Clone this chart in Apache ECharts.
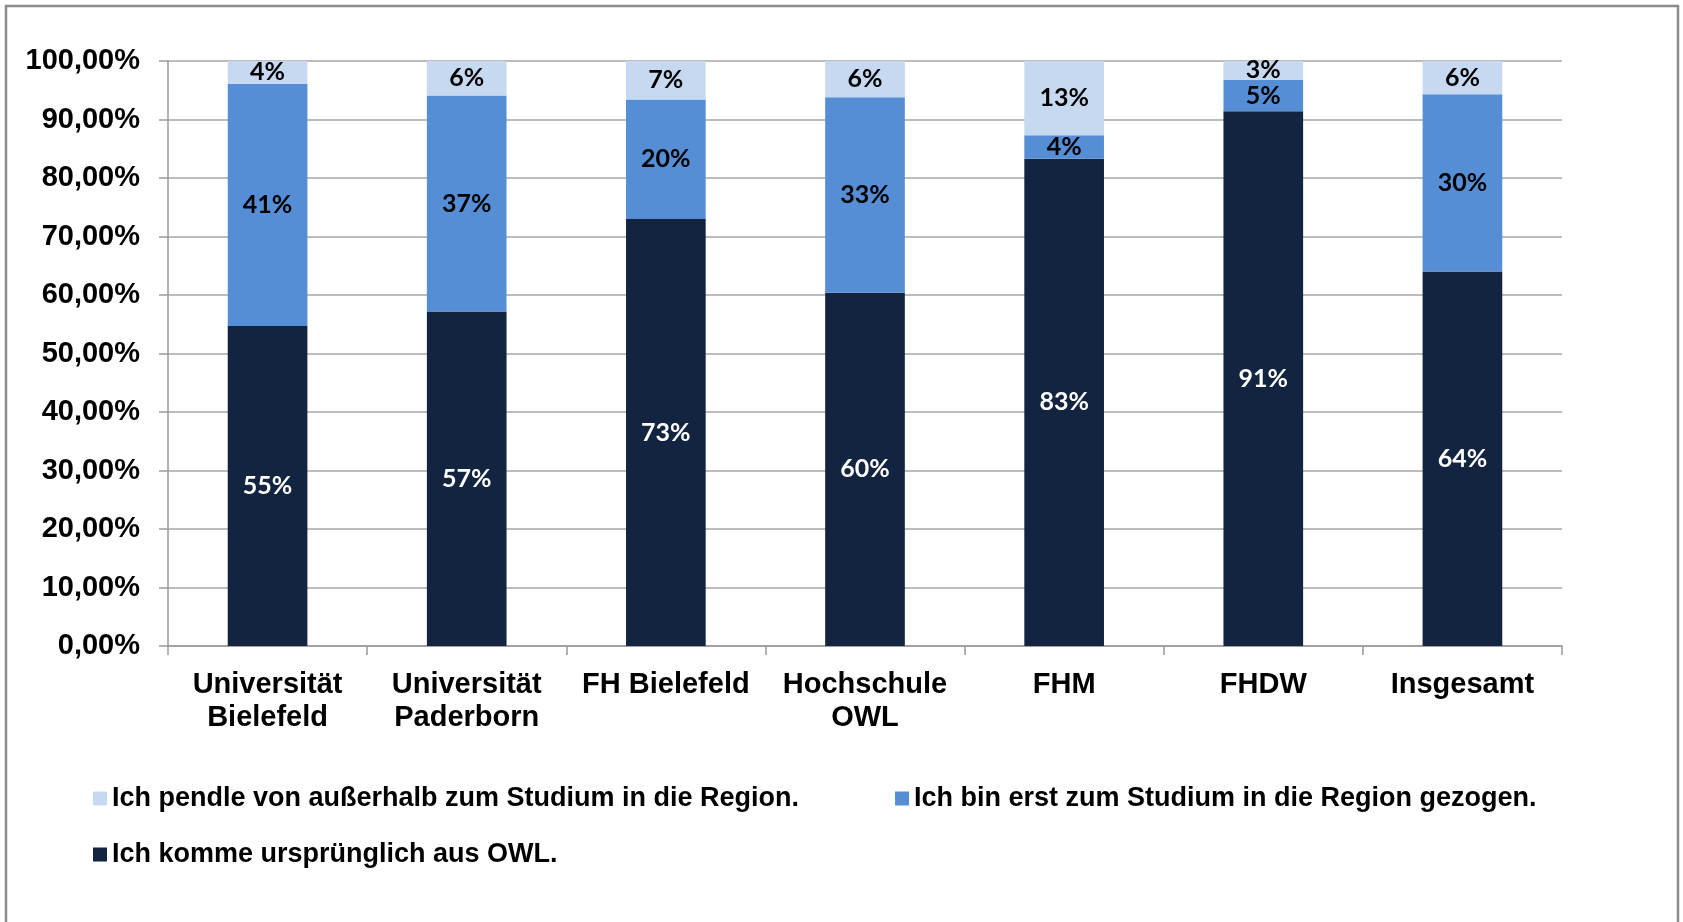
<!DOCTYPE html>
<html>
<head>
<meta charset="utf-8">
<script src="https://cdn.jsdelivr.net/npm/echarts@6/dist/echarts.min.js"></script>
<style>
  html, body { margin: 0; padding: 0; background: #fff; }
  #chart { width: 1683px; height: 922px; }
</style>
</head>
<body>
<div id="chart"></div>
<script>
// Kategorien (Hochschulen)
var categories = ['Universität\nBielefeld', 'Universität\nPaderborn', 'FH Bielefeld', 'Hochschule\nOWL', 'FHM', 'FHDW', 'Insgesamt'];

// Anteile in Prozent, von unten nach oben gestapelt
var ausOWL = [54.7, 57.2, 73.0, 60.4, 83.3, 91.4, 64.0];
var zugezogen = [41.4, 36.9, 20.4, 33.4, 4.0, 5.4, 30.3];
var pendler = [3.9, 5.9, 6.6, 6.2, 12.7, 3.2, 5.7];

var yTicks = ['0,00%', '10,00%', '20,00%', '30,00%', '40,00%', '50,00%', '60,00%', '70,00%', '80,00%', '90,00%', '100,00%'];

var names = [
  'Ich komme ursprünglich aus OWL.',
  'Ich bin erst zum Studium in die Region gezogen.',
  'Ich pendle von außerhalb zum Studium in die Region.'
];

var chart = echarts.init(document.getElementById('chart'));

var axisFont = 'Liberation Sans, Arial, sans-serif';
var labelFont = 'Lato, Open Sans, sans-serif';

function barSeries(name, data, color, labelColor) {
  return {
    name: name,
    type: 'bar',
    stack: 'total',
    barWidth: '40%',
    data: data,
    itemStyle: { color: color },
    label: {
      show: true,
      position: 'inside',
      color: labelColor,
      fontFamily: labelFont,
      fontWeight: 'bold',
      fontSize: 25,
      formatter: function (p) { return Math.round(p.value) + '%'; }
    }
  };
}

var option = {
  animation: false,
  backgroundColor: '#fff',
  graphic: [{
    type: 'rect',
    shape: { x: 6, y: 6, width: 1672, height: 1000 },
    style: { fill: 'none', stroke: '#8c8c8c', lineWidth: 2.5 },
    z: 0
  }],
  grid: { left: 168, right: 121, top: 61, bottom: 276 },
  legend: [{
    data: [names[2], names[1]],
    left: 88,
    top: 780,
    itemGap: 96,
    itemWidth: 14,
    itemHeight: 14,
    icon: 'rect',
    textStyle: { fontFamily: axisFont, fontWeight: 'bold', fontSize: 27, color: '#000' }
  }, {
    data: [names[0]],
    left: 88,
    top: 836,
    itemWidth: 14,
    itemHeight: 14,
    icon: 'rect',
    textStyle: { fontFamily: axisFont, fontWeight: 'bold', fontSize: 27, color: '#000' }
  }],
  xAxis: {
    type: 'category',
    data: categories,
    axisLine: { lineStyle: { color: '#999', width: 1.5 } },
    axisTick: { show: true, length: 9, lineStyle: { color: '#999', width: 1.5 } },
    axisLabel: {
      interval: 0,
      margin: 22,
      fontFamily: axisFont,
      fontWeight: 'bold',
      fontSize: 29,
      lineHeight: 33,
      color: '#000'
    }
  },
  yAxis: {
    type: 'value',
    min: 0,
    max: 100,
    interval: 10,
    axisLine: { show: true, lineStyle: { color: '#999', width: 1.5 } },
    axisTick: { show: true, length: 9, lineStyle: { color: '#999', width: 1.5 } },
    splitLine: { lineStyle: { color: '#a6a6a6', width: 1.5 } },
    axisLabel: {
      margin: 28,
      fontFamily: axisFont,
      fontWeight: 'bold',
      fontSize: 29,
      color: '#000',
      formatter: function (v) { return yTicks[Math.round(v / 10)]; }
    }
  },
  series: [
    barSeries(names[0], ausOWL, '#12243f', '#fff'),
    barSeries(names[1], zugezogen, '#558ed5', '#000'),
    barSeries(names[2], pendler, '#c6d9f1', '#000')
  ]
};

chart.setOption(option);
</script>
</body>
</html>
